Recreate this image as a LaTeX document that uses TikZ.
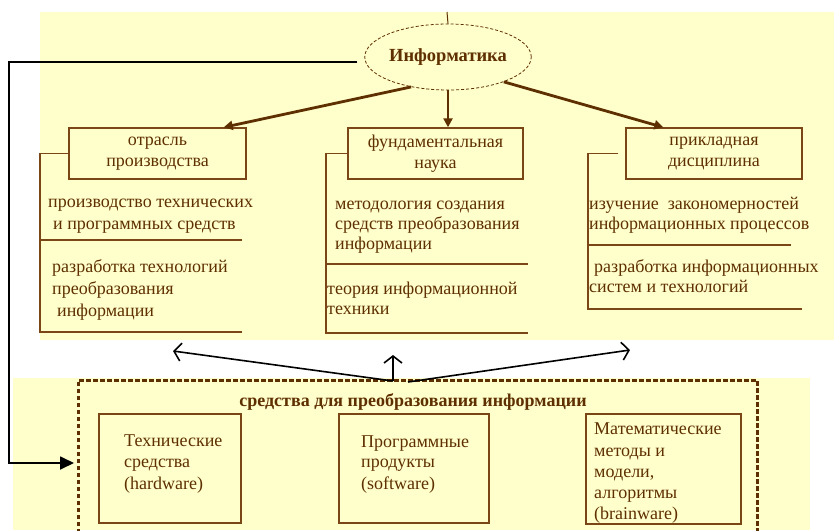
\documentclass[tikz,border=0pt]{standalone}
\usepackage{fontspec}
\setmainfont{Liberation Serif}
\usetikzlibrary{arrows.meta,shapes.geometric}
\definecolor{paper}{HTML}{FFFFCC}
\definecolor{ink}{HTML}{5E2F00}
\definecolor{rulecol}{HTML}{7A4616}

\begin{document}
\begin{tikzpicture}[x=1pt,y=-1pt,
  txt/.style={anchor=base west, inner sep=0pt, text=ink, font=\fontsize{18}{21}\selectfont},
  boxtxt/.style={draw=rulecol, line width=1.4pt, fill=paper, text=ink, align=center,
    font=\fontsize{18}{21}\selectfont, inner sep=0pt},
  plainbox/.style={draw=rulecol, line width=1.4pt, fill=paper, inner sep=0pt},
  bracket/.style={draw=rulecol, line width=1.4pt},
  brarrow/.style={draw=ink, line width=2.8pt, -{Triangle[length=9pt,width=9pt]}},
  blarrow/.style={draw=black, line width=1.6pt, -{Straight Barb[length=7pt,width=18pt]}},
  feed/.style={draw=black, line width=1.8pt, -{Triangle[length=14pt,width=13pt]}}
]
\useasboundingbox (0,0) rectangle (834,530);

% background panels
\fill[paper] (40,12) rectangle (834,340);
\fill[paper] (13,378) rectangle (810,530);

% root node
\node[draw=ink, dash pattern=on 3pt off 2pt, line width=0.8pt, ellipse,
      minimum width=142pt, minimum height=66pt, inner sep=0pt,
      text=ink, font=\fontsize{18.5}{21}\selectfont\bfseries] (inf) at (448,57) {Информатика};
\coordinate (topend) at (447,12);
\draw[draw=ink, line width=1pt] (topend) -- (inf.north);

% three aspects
\node[boxtxt, minimum width=177pt, minimum height=51pt] (b1) at (157.5,153.5) {отрасль\\производства};
\node[boxtxt, minimum width=175pt, minimum height=51pt] (b2) at (435.5,153.5) {фундаментальная\\наука};
\node[boxtxt, minimum width=176pt, minimum height=51pt] (b3) at (714,153.5) {прикладная\\дисциплина};

\draw[brarrow] (inf.219) -- ([xshift=-23pt]b1.north east);
\draw[brarrow] (inf.south) -- (inf.south |- b2.north);
\draw[brarrow] (inf.-24) -- ([xshift=38pt]b3.north west);

% brackets under the aspects
\draw[bracket] (b1.west) -| (40,332) -- (242,332);
\draw[bracket] (40,240) -- (242,240);
\draw[bracket] (b2.west) -| (326,333) -- (528,333);
\draw[bracket] (326,264) -- (528,264);
\draw[bracket] ([xshift=-7pt]b3.west) -| (588,309) -- (802,309);
\draw[bracket] (588,245) -- (791,245);

% column texts
\node[txt] (t11) at (48,207) {производство технических};
\node[txt] (t12) at (53,229) {и программных средств};
\node[txt] (t13) at (52,272) {разработка технологий};
\node[txt] (t14) at (52,294) {преобразования};
\node[txt] (t15) at (57,316) {информации};

\node[txt] (t21) at (335,209) {методология создания};
\node[txt] (t22) at (335,229) {средств преобразования};
\node[txt] (t23) at (335,249) {информации};
\node[txt] (t24) at (327,294) {теория информационной};
\node[txt] (t25) at (327,314) {техники};

\node[txt] (t31) at (589,209) {изучение\ \ закономерностей};
\node[txt] (t32) at (589,229) {информационных процессов};
\node[txt] (t33) at (594,272) {разработка информационных};
\node[txt] (t34) at (589,292) {систем и технологий};

% group of tools
\draw[draw=ink, line width=3pt, dash pattern=on 4.5pt off 2.5pt]
  (78,533) -- (78,380) -- (757,380) -- (757,533);
\node[anchor=base, inner sep=0pt, text=ink, font=\fontsize{18}{21}\selectfont\bfseries]
  (gtitle) at (413,406) {средства для преобразования информации};

\node[plainbox, minimum width=142pt, minimum height=109pt] (hw) at (170,468.5) {};
\node[plainbox, minimum width=150pt, minimum height=109pt] (sw) at (414,468.5) {};
\node[plainbox, minimum width=155pt, minimum height=110pt] (bw) at (663.5,469) {};

\node[txt] (h1) at (124,446) {Технические};
\node[txt] (h2) at (124,467) {средства};
\node[txt] (h3) at (124,489) {(hardware)};

\node[txt] (s1) at (361,447) {Программные};
\node[txt] (s2) at (361,467) {продукты};
\node[txt] (s3) at (361,489) {(software)};

\node[txt] (m1) at (594,434) {Математические};
\node[txt] (m2) at (594,456) {методы и};
\node[txt] (m3) at (594,477) {модели,};
\node[txt] (m4) at (594,498) {алгоритмы};
\node[txt] (m5) at (594,519) {(brainware)};

% links between tools and aspects
\coordinate (hub) at (393,381);
\coordinate (hubr) at (408,382);
\coordinate (tipl) at (173,351);
\coordinate (tipu) at (393,355);
\coordinate (tipr) at (630,350);
\draw[blarrow] (hub) -- (tipl);
\draw[blarrow] (hub) -- (tipu);
\draw[blarrow] (hubr) -- (tipr);

% feedback line from the root to the tools
\coordinate (feedin) at (74,463);
\draw[feed] ([yshift=-5pt,xshift=-7pt]inf.west) -- (9,62) |- (feedin);
\end{tikzpicture}
\end{document}
